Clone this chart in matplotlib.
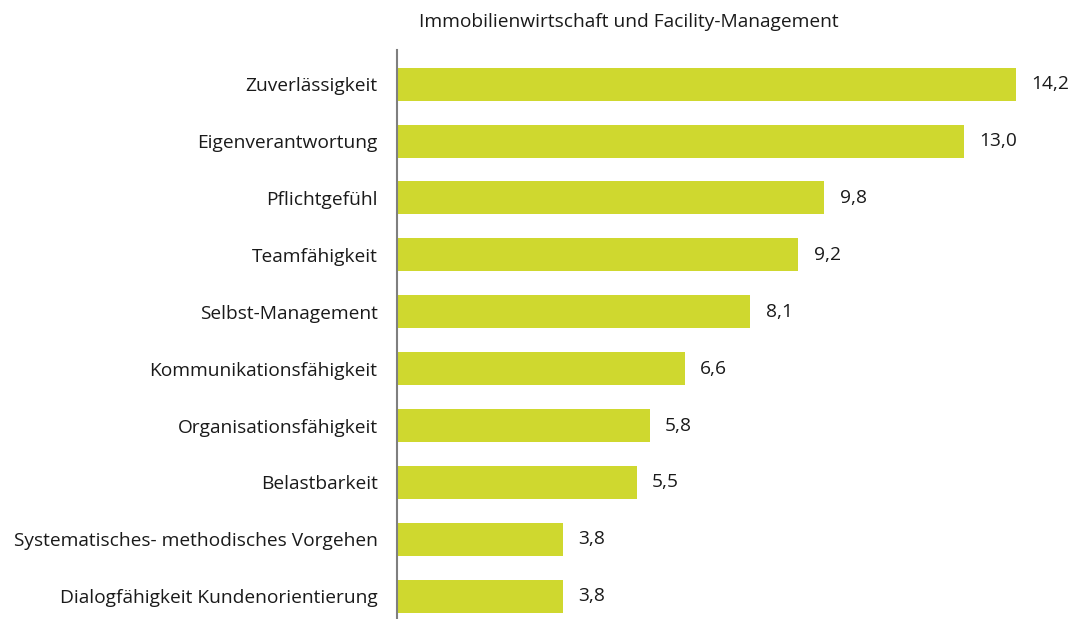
import matplotlib.pyplot as plt

plt.rcParams['font.family'] = ['Open Sans', 'DejaVu Sans']

# Daten
kategorien = ['Zuverlässigkeit', 'Eigenverantwortung', 'Pflichtgefühl', 'Teamfähigkeit',
              'Selbst-Management', 'Kommunikationsfähigkeit', 'Organisationsfähigkeit',
              'Belastbarkeit', 'Systematisches- methodisches Vorgehen',
              'Dialogfähigkeit Kundenorientierung']
werte = [14.2, 13.0, 9.8, 9.2, 8.1, 6.6, 5.8, 5.5, 3.8, 3.8]
titel = 'Immobilienwirtschaft und Facility-Management'

fig = plt.figure(figsize=(10.73, 6.19), dpi=100)
ax = fig.add_axes([397 / 1073, 0, 1 - 397 / 1073, 569 / 619])

pos = range(len(kategorien))
ax.barh(pos, werte, height=0.58, color='#cfd82f')
ax.set_ylim(len(kategorien) - 0.6, -0.6)
ax.set_xlim(0, 15.5)

for y, w in zip(pos, werte):
    ax.annotate(f'{w:.1f}'.replace('.', ','), (w, y), xytext=(11, 0),
                textcoords='offset points', va='center', ha='left',
                fontsize=13.8, color='#1a1a1a')

ax.set_yticks(list(pos))
ax.set_yticklabels(kategorien, fontsize=13.8, color='#1a1a1a')
ax.tick_params(axis='y', length=0, pad=14)
ax.set_xticks([])
for s in ['top', 'right', 'bottom']:
    ax.spines[s].set_visible(False)
ax.spines['left'].set_color('#7f7f7f')
ax.spines['left'].set_linewidth(1.5)

fig.text(629 / 1073, 1 - 22 / 619, titel, ha='center', va='center',
         fontsize=13.8, color='#1a1a1a')

fig.savefig('out.png', dpi=100)
